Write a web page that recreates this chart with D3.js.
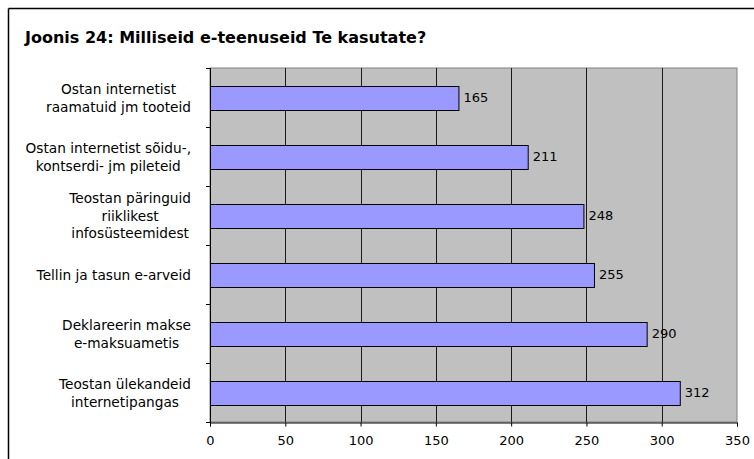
<!DOCTYPE html>
<html><head><meta charset="utf-8">
<script src="https://cdn.jsdelivr.net/npm/d3@7"></script>
<style>
html,body{margin:0;padding:0;background:#fff;}
svg{display:block;font-family:"DejaVu Sans",Verdana,sans-serif;}
</style></head>
<body>
<svg id="chart" width="754" height="459"></svg>
<script>
const title = "Joonis 24: Milliseid e-teenuseid Te kasutate?";
const categories = [
  ["Ostan internetist", "raamatuid jm tooteid"],
  ["Ostan internetist sõidu-,", "kontserdi- jm pileteid"],
  ["Teostan päringuid", "riiklikest", "infosüsteemidest"],
  ["Tellin ja tasun e-arveid"],
  ["Deklareerin makse", "e-maksuametis"],
  ["Teostan ülekandeid", "internetipangas"]
];
const values = [165, 211, 248, 255, 290, 312];
const xTicks = [0, 50, 100, 150, 200, 250, 300, 350];

const svg = d3.select("#chart");
const W = 754, H = 459;
const plot = {left: 210, right: 737, top: 68, bottom: 422};

// outer frame (top and left edges visible)
svg.append("line").attr("x1", 8.5).attr("x2", W).attr("y1", 8.5).attr("y2", 8.5)
  .attr("stroke", "#000").attr("stroke-width", 1.5);
svg.append("line").attr("x1", 8.5).attr("x2", 8.5).attr("y1", 8.5).attr("y2", H)
  .attr("stroke", "#000").attr("stroke-width", 1.5);

svg.append("text").attr("x", 25).attr("y", 43)
  .attr("font-weight", "bold").attr("font-size", 16).attr("fill", "#000")
  .text(title);

const x = d3.scaleLinear().domain([0, 350]).range([plot.left, plot.right]);
const y = d3.scaleBand().domain(d3.range(categories.length))
  .range([plot.top, plot.bottom]).paddingInner(0.6).paddingOuter(0.3);
const yb = d3.scaleBand().domain(d3.range(categories.length))
  .range([plot.top, plot.bottom]);

// plot background
svg.append("rect").attr("x", plot.left).attr("y", plot.top)
  .attr("width", plot.right - plot.left).attr("height", plot.bottom - plot.top)
  .attr("fill", "#C0C0C0").attr("stroke", "#808080").attr("stroke-width", 1);

// vertical gridlines
svg.append("g").selectAll("line").data(xTicks.slice(1, -1)).join("line")
  .attr("x1", d => Math.round(x(d)) + 0.5).attr("x2", d => Math.round(x(d)) + 0.5)
  .attr("y1", plot.top).attr("y2", plot.bottom)
  .attr("stroke", "#1a1a1a").attr("stroke-width", 1);

// bars
svg.append("g").selectAll("rect").data(values).join("rect")
  .attr("x", x(0) + 0.5).attr("y", (d, i) => Math.round(y(i)) + 0.5)
  .attr("width", d => x(d) - x(0)).attr("height", Math.round(y.bandwidth()))
  .attr("fill", "#9999FF").attr("stroke", "#000").attr("stroke-width", 1);

// value labels
svg.append("g").selectAll("text").data(values).join("text")
  .attr("x", d => x(d) + 5).attr("y", (d, i) => yb(i) + yb.bandwidth() / 2)
  .attr("dy", "0.35em").attr("font-size", 13).attr("fill", "#000")
  .text(d => d);

// x axis
const xAxis = d3.axisBottom(x).tickValues(xTicks).tickSize(4).tickPadding(9);
const gx = svg.append("g").attr("transform", `translate(0,${plot.bottom + 0.5})`).call(xAxis);
gx.select(".domain").attr("stroke", "#000");
gx.selectAll(".tick line").attr("stroke", "#000");
gx.selectAll("text").attr("font-size", 13).attr("fill", "#000")
  .attr("font-family", "DejaVu Sans, Verdana, sans-serif");

// y axis (band boundary ticks)
svg.append("line").attr("x1", plot.left + 0.5).attr("x2", plot.left + 0.5)
  .attr("y1", plot.top).attr("y2", plot.bottom + 4).attr("stroke", "#000");
const bounds = d3.range(categories.length + 1).map(i => plot.top + i * yb.bandwidth());
svg.append("g").selectAll("line").data(bounds).join("line")
  .attr("x1", plot.left - 4).attr("x2", plot.left)
  .attr("y1", d => Math.round(d) + 0.5).attr("y2", d => Math.round(d) + 0.5)
  .attr("stroke", "#000");

// category labels (multi-line, block right edge ~191, lines centered)
const lineH = 17.5;
const labelRight = 191;
categories.forEach((lines, i) => {
  const g = svg.append("g");
  const cy = yb(i) + yb.bandwidth() / 2 + 0.5;
  const texts = lines.map((ln, k) => g.append("text")
    .attr("y", cy + (k - (lines.length - 1) / 2) * lineH)
    .attr("dy", "0.35em").attr("font-size", 13.7).attr("fill", "#000")
    .attr("text-anchor", "middle").text(ln));
  const maxW = d3.max(texts, t => t.node().getComputedTextLength());
  texts.forEach(t => t.attr("x", labelRight - maxW / 2));
});
</script>
</body></html>
